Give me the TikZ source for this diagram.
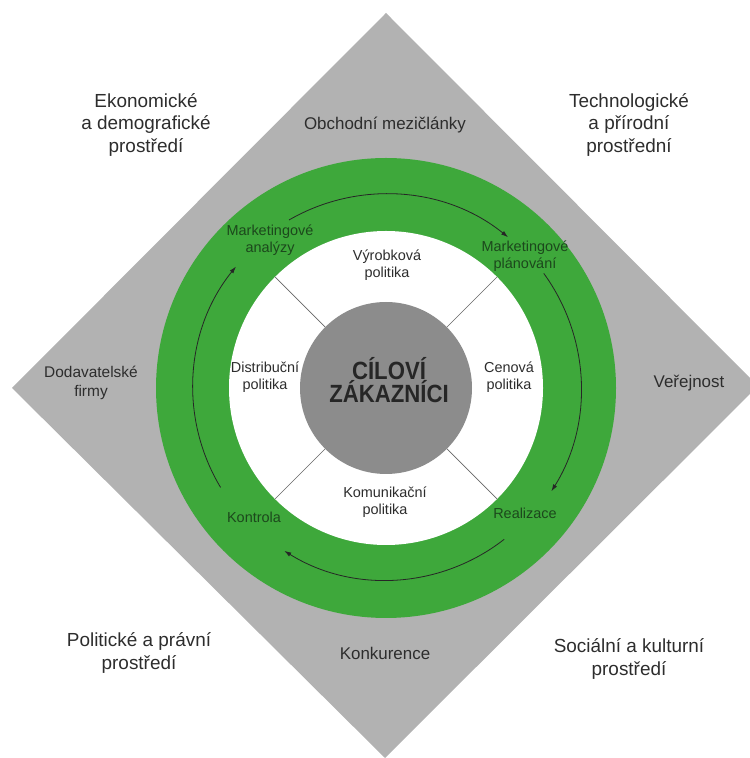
\documentclass[tikz,border=0pt]{standalone}
\usepackage{fontspec}
\setmainfont{Liberation Sans}
\newfontfamily\coreface[FakeStretch=0.89]{Liberation Sans}
\usetikzlibrary{arrows.meta}
\definecolor{envgrey}{RGB}{178,178,178}
\definecolor{ringgreen}{RGB}{62,168,59}
\definecolor{coregrey}{RGB}{140,140,140}
\definecolor{textdark}{RGB}{45,45,45}
\definecolor{ringtext}{RGB}{28,72,28}
\begin{document}
\begin{tikzpicture}[>={Latex[length=7bp,width=4.5bp]},line join=bevel,
  outer/.style={align=center,inner sep=0pt,text=textdark,font=\fontsize{19}{22.5}\selectfont},
  market/.style={align=center,inner sep=0pt,text=textdark,font=\fontsize{17}{20}\selectfont},
  mixlabel/.style={align=center,inner sep=0pt,text=textdark,font=\fontsize{14.5}{16.7}\selectfont},
  steplabel/.style={align=center,inner sep=0pt,text=ringtext,font=\fontsize{14.5}{16.5}\selectfont},
  flow/.style={->,draw=black!85,line width=0.8bp},
  split/.style={draw=black!60,line width=0.7bp}]
\useasboundingbox (0bp,0bp) rectangle (750bp,758bp);
\coordinate (C) at (386bp,370bp);
%%
  % Environment square
  \fill[envgrey] (386bp,745bp) -- (758bp,372bp) -- (385bp,0bp) -- (12bp,370bp) -- cycle;
  % Rings
  \node[circle,fill=ringgreen,inner sep=0pt,minimum size=460bp] (ring) at (C) {};
  \node[circle,fill=white,inner sep=0pt,minimum size=314bp] (mix) at (C) {};
  \node[circle,fill=coregrey,inner sep=0pt,minimum size=172bp] (target) at (C) {};
  \node[align=center,inner sep=0pt,text=black!85,
        font=\coreface\bfseries\fontsize{25}{23}\selectfont] (core) at (389bp,378bp)
        {C\'ILOV\'I\\Z\'AKAZN\'ICI};
  % Edge: mix -> target
  \draw[split] (target.45) -- (mix.45);
  \draw[split] (target.135) -- (mix.135);
  \draw[split] (target.225) -- (mix.225);
  \draw[split] (target.315) -- (mix.315);
  % Edge: analyzy -> planovani
  \draw[flow] ([shift={(120:194bp)}]C) arc[start angle=120,end angle=51,radius=194bp];
  % Edge: planovani -> realizace
  \draw[flow] ([shift={(36:195bp)}]C) arc[start angle=36,end angle=-32,radius=195bp];
  % Edge: realizace -> kontrola
  \draw[flow] ([shift={(-52:192bp)}]C) arc[start angle=-52,end angle=-122,radius=192bp];
  % Edge: kontrola -> analyzy
  \draw[flow] ([shift={(211:193bp)}]C) arc[start angle=211,end angle=141,radius=193bp];
  % Node: outer environment
  \node[outer] (ekonom) at (146bp,633bp) {Ekonomick\'e\\a demografick\'e\\prost\v{r}ed\'i};
  \node[outer] (techno) at (629bp,633bp) {Technologick\'e\\a p\v{r}\'irodn\'i\\prost\v{r}edn\'i};
  \node[outer] (politic) at (139bp,105bp) {Politick\'e a pr\'avn\'i\\prost\v{r}ed\'i};
  \node[outer] (social) at (629bp,99bp) {Soci\'aln\'i a kulturn\'i\\prost\v{r}ed\'i};
  % Node: market environment
  \node[market] (obchod) at (385bp,633bp) {Obchodn\'i mezi\v{c}l\'anky};
  \node[market,font=\fontsize{15.5}{18.5}\selectfont] (dodav) at (91bp,375bp) {Dodavatelsk\'e\\firmy};
  \node[market] (verej) at (689bp,375bp) {Ve\v{r}ejnost};
  \node[market] (konkur) at (385bp,105bp) {Konkurence};
  % Node: marketing mix
  \node[mixlabel] (vyrob) at (387bp,493bp) {V\'yrobkov\'a\\politika};
  \node[mixlabel] (distrib) at (265bp,381bp) {Distribu\v{c}n\'i\\politika};
  \node[mixlabel] (cena) at (509bp,381bp) {Cenov\'a\\politika};
  \node[mixlabel] (komun) at (385bp,256bp) {Komunika\v{c}n\'i\\politika};
  % Node: management steps
  \node[steplabel] (analyzy) at (270bp,518bp) {Marketingov\'e\\anal\'yzy};
  \node[steplabel] (planovani) at (525bp,502bp) {Marketingov\'e\\pl\'anov\'an\'i};
  \node[steplabel] (realizace) at (525bp,245bp) {Realizace};
  \node[steplabel] (kontrola) at (254bp,241bp) {Kontrola};
%
\end{tikzpicture}
\end{document}
